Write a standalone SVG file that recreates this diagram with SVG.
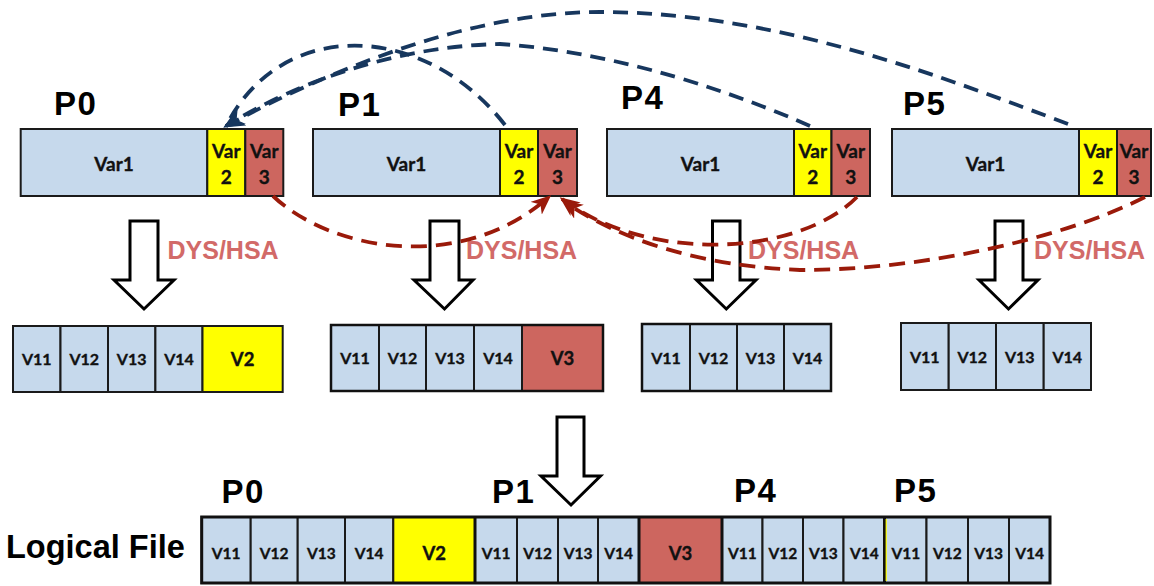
<svg xmlns="http://www.w3.org/2000/svg" width="1154" height="586" viewBox="0 0 1154 586">
  <style>
    .v1 { fill: #C6D9EC; stroke: #1a1a1a; stroke-width: 2; }
    .v2 { fill: #FFFF00; stroke: #1a1a1a; stroke-width: 2; }
    .v3 { fill: #CD665F; stroke: #1a1a1a; stroke-width: 2; }
    .frame { fill: none; stroke: #111; stroke-width: 3; }
    .sep { stroke: #111; stroke-width: 3; }
    .cell { font-family: Lato, "Open Sans", sans-serif; font-weight: 700; fill: #111; stroke: #111; stroke-width: 0.35; text-anchor: middle; }
    .var { font-size: 19px; }
    .vs { font-size: 16px; }
    .vb { font-size: 15.5px; }
    .vbig { font-size: 18.5px; }
    .plabel { font-family: "Liberation Sans", Arial, sans-serif; font-weight: 700; font-size: 33px; letter-spacing: 1.5px; fill: #000; }
    .dys { font-family: "Liberation Sans", Arial, sans-serif; font-weight: 700; font-size: 25px; fill: #D26A68; }
    .title { font-family: "Liberation Sans", Arial, sans-serif; font-weight: 700; font-size: 32.5px; fill: #000; }
    .hollow { fill: #fff; stroke: #000; stroke-width: 3; stroke-linejoin: miter; }
    .blue { fill: none; stroke: #17375E; stroke-width: 3.8; stroke-dasharray: 15 9; }
    .red { fill: none; stroke: #9A1A0A; stroke-width: 3.8; stroke-dasharray: 16 9; }
  </style>
  <defs>
    <marker id="headBlue" viewBox="0 0 14 12" refX="12" refY="6" markerWidth="21" markerHeight="18" markerUnits="userSpaceOnUse" orient="auto">
      <path d="M0,0 L14,6 L0,12 L4,6 z" fill="#17375E"/>
    </marker>
    <marker id="headRed" viewBox="0 0 14 12" refX="12" refY="6" markerWidth="20" markerHeight="17" markerUnits="userSpaceOnUse" orient="auto">
      <path d="M0,0 L14,6 L0,12 L4,6 z" fill="#9A1A0A"/>
    </marker>
  </defs>

  <rect width="1154" height="586" fill="#fff"/>

  <!-- process labels, top row -->
  <g id="labels-top">
    <text class="plabel" x="54" y="115">P0</text>
    <text class="plabel" x="338" y="116">P1</text>
    <text class="plabel" x="621" y="109">P4</text>
    <text class="plabel" x="903" y="115">P5</text>
  </g>

  <!-- per-process memory layout: Var1 | Var2 | Var3 -->
  <g id="mem-p0">
    <rect class="v1" x="20.7" y="129" width="186.6" height="67"/>
    <rect class="v2" x="207.3" y="129" width="38" height="67"/>
    <rect class="v3" x="245.3" y="129" width="38" height="67"/>
    <text class="cell var" x="114" y="170.5">Var1</text>
    <text class="cell var" x="226.3" y="158">Var</text>
    <text class="cell var" x="226.3" y="184">2</text>
    <text class="cell var" x="264.3" y="158">Var</text>
    <text class="cell var" x="264.3" y="184">3</text>
  </g>
  <g id="mem-p1">
    <rect class="v1" x="313" y="129" width="187" height="67"/>
    <rect class="v2" x="500" y="129" width="38" height="67"/>
    <rect class="v3" x="538" y="129" width="39" height="67"/>
    <text class="cell var" x="406.5" y="170.5">Var1</text>
    <text class="cell var" x="519" y="158">Var</text>
    <text class="cell var" x="519" y="184">2</text>
    <text class="cell var" x="557.5" y="158">Var</text>
    <text class="cell var" x="557.5" y="184">3</text>
  </g>
  <g id="mem-p4">
    <rect class="v1" x="607" y="129" width="187" height="67"/>
    <rect class="v2" x="794" y="129" width="37.5" height="67"/>
    <rect class="v3" x="831.5" y="129" width="38.5" height="67"/>
    <text class="cell var" x="700.5" y="170.5">Var1</text>
    <text class="cell var" x="812.8" y="158">Var</text>
    <text class="cell var" x="812.8" y="184">2</text>
    <text class="cell var" x="850.8" y="158">Var</text>
    <text class="cell var" x="850.8" y="184">3</text>
  </g>
  <g id="mem-p5">
    <rect class="v1" x="892" y="129" width="187" height="67"/>
    <rect class="v2" x="1079" y="129" width="38" height="67"/>
    <rect class="v3" x="1117" y="129" width="34" height="67"/>
    <text class="cell var" x="985.5" y="170.5">Var1</text>
    <text class="cell var" x="1098" y="158">Var</text>
    <text class="cell var" x="1098" y="184">2</text>
    <text class="cell var" x="1134" y="158">Var</text>
    <text class="cell var" x="1134" y="184">3</text>
  </g>

  <!-- hollow block arrows and redistribution labels -->
  <g id="step-p0">
    <polygon class="hollow" points="130,221 158,221 158,280 174,280 144,309 114,280 130,280"/>
    <text class="dys" x="167.5" y="259">DYS/HSA</text>
  </g>
  <g id="step-p1">
    <polygon class="hollow" points="430,221 459,221 459,280 473,280 444.5,309 414,280 430,280"/>
    <text class="dys" x="466" y="259">DYS/HSA</text>
  </g>
  <g id="step-p4">
    <polygon class="hollow" points="712.5,221 740,221 740,280 756,280 726.3,309 696.5,280 712.5,280"/>
    <text class="dys" x="748" y="259">DYS/HSA</text>
  </g>
  <g id="step-p5">
    <polygon class="hollow" points="995,221 1023,221 1023,280 1038,280 1008.5,309 979,280 995,280"/>
    <text class="dys" x="1034" y="259">DYS/HSA</text>
  </g>

  <!-- reorganised buffers per process -->
  <g id="buf-p0">
    <rect class="v1" x="13" y="326" width="47.5" height="66"/>
    <rect class="v1" x="60.5" y="326" width="47.5" height="66"/>
    <rect class="v1" x="108" y="326" width="47.4" height="66"/>
    <rect class="v1" x="155.4" y="326" width="47.1" height="66"/>
    <rect class="v2" x="202.5" y="326" width="80.2" height="66"/>
    <text class="cell vs" x="36.8" y="365">V11</text>
    <text class="cell vs" x="84.3" y="365">V12</text>
    <text class="cell vs" x="131.7" y="365">V13</text>
    <text class="cell vs" x="179" y="365">V14</text>
    <text class="cell vbig" x="242.6" y="366">V2</text>
  </g>
  <g id="buf-p1">
    <rect class="v1" x="331" y="325" width="48" height="66"/>
    <rect class="v1" x="379" y="325" width="47" height="66"/>
    <rect class="v1" x="426" y="325" width="48" height="66"/>
    <rect class="v1" x="474" y="325" width="48" height="66"/>
    <rect class="v3" x="522" y="325" width="81" height="66"/>
    <rect class="frame" x="331" y="325" width="272" height="66" style="stroke-width:2.5"/>
    <text class="cell vs" x="355" y="364">V11</text>
    <text class="cell vs" x="402.5" y="364">V12</text>
    <text class="cell vs" x="450" y="364">V13</text>
    <text class="cell vs" x="498" y="364">V14</text>
    <text class="cell vbig" x="562.5" y="365">V3</text>
  </g>
  <g id="buf-p4">
    <rect class="v1" x="642" y="324" width="48" height="67"/>
    <rect class="v1" x="690" y="324" width="47" height="67"/>
    <rect class="v1" x="737" y="324" width="47" height="67"/>
    <rect class="v1" x="784" y="324" width="47" height="67"/>
    <rect class="frame" x="642" y="324" width="189" height="67" style="stroke-width:2.5"/>
    <text class="cell vs" x="666" y="363.5">V11</text>
    <text class="cell vs" x="713.5" y="363.5">V12</text>
    <text class="cell vs" x="760.5" y="363.5">V13</text>
    <text class="cell vs" x="807.5" y="363.5">V14</text>
  </g>
  <g id="buf-p5">
    <rect class="v1" x="901" y="323" width="47.7" height="67"/>
    <rect class="v1" x="948.7" y="323" width="47.3" height="67"/>
    <rect class="v1" x="996" y="323" width="47.7" height="67"/>
    <rect class="v1" x="1043.7" y="323" width="47.3" height="67"/>
    <text class="cell vs" x="924.8" y="362.5">V11</text>
    <text class="cell vs" x="972.3" y="362.5">V12</text>
    <text class="cell vs" x="1019.8" y="362.5">V13</text>
    <text class="cell vs" x="1067.3" y="362.5">V14</text>
  </g>

  <!-- write to the shared file -->
  <g id="step-write">
    <polygon class="hollow" points="557,417 584,417 584,476 600.5,476 571,505 541,476 557,476"/>
  </g>

  <!-- process labels, logical file -->
  <g id="labels-file">
    <text class="plabel" x="221.5" y="503">P0</text>
    <text class="plabel" x="492" y="503">P1</text>
    <text class="plabel" x="734" y="502">P4</text>
    <text class="plabel" x="894" y="502">P5</text>
  </g>

  <g id="logical-file">
    <text class="title" x="6" y="557.5">Logical File</text>
    <rect class="v1" x="201.7" y="517" width="49" height="66"/>
    <rect class="v1" x="250.7" y="517" width="47" height="66"/>
    <rect class="v1" x="297.7" y="517" width="47.3" height="66"/>
    <rect class="v1" x="345" y="517" width="48.3" height="66"/>
    <rect class="v2" x="393.3" y="517" width="81.7" height="66"/>
    <rect class="v1" x="475" y="517" width="42" height="66"/>
    <rect class="v1" x="517" y="517" width="41" height="66"/>
    <rect class="v1" x="558" y="517" width="40" height="66"/>
    <rect class="v1" x="598" y="517" width="41" height="66"/>
    <rect class="v3" x="639" y="517" width="83" height="66"/>
    <rect class="v1" x="722" y="517" width="40.5" height="66"/>
    <rect class="v1" x="762.5" y="517" width="40.5" height="66"/>
    <rect class="v1" x="803" y="517" width="40.5" height="66"/>
    <rect class="v1" x="843.5" y="517" width="41.5" height="66"/>
    <rect class="v1" x="885" y="517" width="41.5" height="66"/>
    <rect class="v1" x="926.5" y="517" width="41.5" height="66"/>
    <rect class="v1" x="968" y="517" width="41" height="66"/>
    <rect class="v1" x="1009" y="517" width="41" height="66"/>
    <line class="sep" x1="475" y1="517" x2="475" y2="583"/>
    <line class="sep" x1="639" y1="517" x2="639" y2="583"/>
    <line class="sep" x1="722" y1="517" x2="722" y2="583"/>
    <line class="sep" x1="884.5" y1="517" x2="884.5" y2="583"/>
    <line x1="886.2" y1="519" x2="886.2" y2="581" stroke="#FFFF00" stroke-width="1.2"/>
    <rect class="frame" x="201.7" y="517" width="848.3" height="66"/>
    <text class="cell vb" x="226.2" y="559">V11</text>
    <text class="cell vb" x="274.2" y="559">V12</text>
    <text class="cell vb" x="321.4" y="559">V13</text>
    <text class="cell vb" x="369.2" y="559">V14</text>
    <text class="cell vbig" x="434.2" y="559.5">V2</text>
    <text class="cell vb" x="496" y="559">V11</text>
    <text class="cell vb" x="537.5" y="559">V12</text>
    <text class="cell vb" x="578" y="559">V13</text>
    <text class="cell vb" x="618.5" y="559">V14</text>
    <text class="cell vbig" x="680.5" y="559.5">V3</text>
    <text class="cell vb" x="742.3" y="559">V11</text>
    <text class="cell vb" x="782.8" y="559">V12</text>
    <text class="cell vb" x="823.3" y="559">V13</text>
    <text class="cell vb" x="864.3" y="559">V14</text>
    <text class="cell vb" x="905.8" y="559">V11</text>
    <text class="cell vb" x="947.3" y="559">V12</text>
    <text class="cell vb" x="988.5" y="559">V13</text>
    <text class="cell vb" x="1029.5" y="559">V14</text>
  </g>

  <!-- data movement between processes -->
  <g id="connectors">
    <!-- Var2 gathered onto P0 -->
    <path class="blue" d="M505,125 C425,22 282,16 226,126"/>
    <path class="blue" d="M810,126 C740,95 620,52 500,44 C400,46 300,80 226,126" marker-end="url(#headBlue)"/>
    <path class="blue" d="M1068,124 C950,80 780,12 600,12 C470,12 330,70 226,126" marker-end="url(#headBlue)"/>
    <!-- Var3 gathered onto P1 -->
    <path class="red" d="M273,196 C330,250 460,275 549,197" marker-end="url(#headRed)"/>
    <path class="red" d="M857,197 C800,255 650,265 562,199" marker-end="url(#headRed)"/>
    <path class="red" d="M1145,197 C1060,240 920,270 800,270 C700,266 620,240 565,202" marker-end="url(#headRed)"/>
  </g>
</svg>
